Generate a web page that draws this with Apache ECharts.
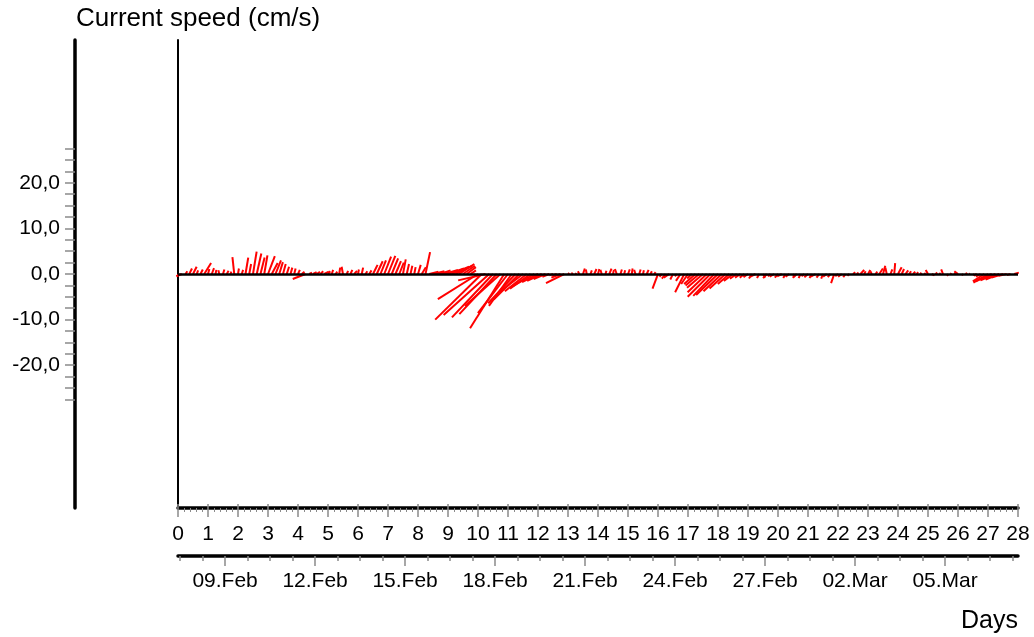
<!DOCTYPE html>
<html>
<head>
<meta charset="utf-8">
<script src="https://cdn.jsdelivr.net/npm/echarts@6/dist/echarts.min.js"></script>
<style>
  html, body { margin: 0; padding: 0; background: #fff; }
  #chart { width: 1034px; height: 637px; }
</style>
</head>
<body>
<div id="chart"></div>
<script>
// current vectors, one every 3 hours from day 0 (u = east, v = north, cm/s)
const stepHours = 3;
const eastSpeed = [
  0.3, -1.2, 0.4, 0.6, 0.8, 0.3, 0.5, 1.5,
  0.3, 0.5, 0.2, -0.2, 0.3, 0.4, 0.2, -0.4,
  0.2, 0.3, 0.6, 0.4, 0.8, 1.0, 0.9, 0.7,
  1.5, 1.3, 1.2, 0.8, 0.6, 0.5, 0.4, 0.3,
  0.4, 0.6, -2.8, 0.6, 0.8, 0.7, 0.6, 1.0,
  0.5, 0.3, 0.4, 0.2, -0.3, 0.3, 0.4, 0.6,
  0.2, 0.3, 0.4, 0.5, 1.0, 1.3, 1.2, 1.5,
  1.6, 1.4, 1.2, 1.0, 0.6, 0.5, 0.4, 0.3,
  0.6, 0.9, 1.0, 2.0, 2.5, 2.4, 2.2, 3.0,
  3.5, 3.8, 3.6, 3.3, 2.6, 2.0, 1.2, 0.5,
  -8.8, -10.2, -6.0, -10.0, -9.0, -8.2, -7.8, -7.5,
  -6.6, -5.0, -6.0, -5.6, -5.2, -4.8, -4.5, -4.6,
  -3.5, -3.2, -2.6, -1.5, -0.8, -1.0, -2.0, -4.0,
  0.3, 0.2, 0.2, -0.3, 0.4, -0.2, 0.3, 0.5,
  0.3, -0.3, 0.2, 0.5, 0.2, -0.4, 0.3, 0.2,
  0.4, 0.2, -0.3, 0.3, 0.2, 0.4, 0.3, 0.3,
  -1.2, -0.5, -0.8, -1.2, -0.6, -0.4, -1.0, -2.0,
  -1.5, -1.0, -2.5, -3.0, -3.5, -4.2, -5.0, -4.6,
  -4.8, -4.0, -3.5, -2.5, -2.0, -1.5, -1.2, -1.0,
  -1.0, -0.6, -1.2, -0.5, 0.5, -0.8, -0.6, -1.0,
  -0.7, -1.0, -0.5, -0.8, 0.4, -0.9, -0.4, -0.6,
  -0.8, -0.5, -1.0, -0.6, -0.4, -0.8, -0.6, -0.7,
  -0.6, -0.8, -0.5, -0.4, 0.5, 0.4, 0.8, 0.3,
  0.5, -0.3, 0.4, 0.8, 0.5, -0.3, 0.4, 0.2,
  0.8, 0.5, 0.6, 0.4, 0.5, 0.3, 0.2, 0.3,
  -0.5, 0.6, 0.4, 0.3, -0.4, 0.3, 0.2, 0.3,
  -0.8, 0.3, 0.4, 0.2, 0.5, -0.6, -1.0, -2.5,
  -3.2, -3.5, -3.3, -3.0, -2.5, -1.8, -0.8, 1.0
];
const northSpeed = [
  -0.4, -0.5, 0.6, 1.2, 1.6, 0.8, 1.0, 2.4,
  1.1, 1.3, 0.9, 0.8, 1.0, 0.7, 0.5, 3.7,
  1.2, 0.9, 3.6, 2.2, 4.9, 4.5, 3.6, 4.1,
  3.9, 2.4, 3.0, 2.6, 2.2, 1.6, 1.4, 1.2,
  0.9, 0.5, -1.1, 0.3, 0.4, 0.5, 0.6, 0.5,
  0.6, 0.9, 0.5, 1.4, 1.6, 0.7, 0.9, 0.7,
  1.0, 1.4, 0.6, 0.8, 2.0, 2.8, 3.0, 3.8,
  4.0, 3.4, 2.8, 2.5, 3.2, 2.2, 1.8, 1.5,
  2.0, 1.5, 4.8, 0.5, 0.6, 0.4, 0.8, 0.9,
  1.2, 1.6, 1.8, 2.2, 1.8, 1.5, 0.8, -0.5,
  -5.5, -10.0, -1.4, -9.0, -9.5, -8.8, -7.0, -11.9,
  -8.6, -7.0, -6.4, -5.6, -4.0, -3.8, -3.2, -2.6,
  -1.8, -1.5, -1.1, -0.6, -0.3, -0.3, -0.8, -2.0,
  0.2, 0.3, 0.2, 0.6, 1.2, 1.0, 0.8, 1.1,
  1.1, 0.9, 0.7, 1.2, 0.9, 1.1, 1.0, 0.8,
  1.0, 1.2, 0.9, 1.0, 0.8, 0.9, 0.6, 0.4,
  -3.2, -0.6, -1.0, -0.8, -1.2, -0.5, -1.5, -4.0,
  -2.2, -1.0, -2.2, -2.5, -3.0, -4.0, -5.0, -4.8,
  -4.6, -3.8, -3.2, -2.2, -1.5, -1.0, -0.8, -0.8,
  -0.7, -1.0, -0.6, -0.9, -0.8, -0.9, -0.5, -0.6,
  -0.8, -0.5, -0.9, -0.6, -0.7, -0.8, -0.9, -0.5,
  -0.7, -0.9, -0.6, -0.8, -1.0, -0.6, -0.7, -2.0,
  -0.5, -0.6, -0.7, -0.4, 0.4, 0.3, 0.9, 0.6,
  0.9, 0.6, 0.5, 1.2, 1.8, 1.4, 1.0, 2.4,
  1.5, 1.1, 0.8, 0.6, 0.5, 0.4, 0.3, 0.2,
  0.9, -0.3, 0.3, 0.2, 1.0, -0.4, 0.2, 0.3,
  0.6, -0.3, 0.2, 0.1, -0.4, -0.3, -0.6, -1.6,
  -1.9, -1.6, -1.4, -1.2, -0.8, -0.4, -0.2, 0.3
];

// axis ticks and labels
const speedLabels = [-20, -10, 0, 10, 20];
const speedTicks = [-27.5, -25, -22.5, -20, -17.5, -15, -12.5, -10, -7.5, -5, -2.5, 0,
  2.5, 5, 7.5, 10, 12.5, 15, 17.5, 20, 22.5, 25, 27.5];
const dateLabels = ['09.Feb', '12.Feb', '15.Feb', '18.Feb', '21.Feb', '24.Feb', '27.Feb', '02.Mar', '05.Mar'];
const firstDateDay = 1.57;   // position of 09.Feb on the day axis
const dateMinorStep = 0.75;  // 18 h

const dateMajor = dateLabels.map((d, i) => firstDateDay + 3 * i);
const dateMinor = [];
for (let d = firstDateDay - 2 * dateMinorStep; d <= 28; d += dateMinorStep) dateMinor.push(+d.toFixed(3));

const sticks = eastSpeed.map((u, i) => [i * stepHours / 24, u, northSpeed[i]]);

const FONT = 'Liberation Sans, Arial, sans-serif';
const chart = echarts.init(document.getElementById('chart'));

const yRange = 51.3;
const gray = '#8a8a8a';

chart.setOption({
  animation: false,
  backgroundColor: '#fff',
  grid: { left: 178, right: 16, top: 40, bottom: 129, containLabel: false },
  graphic: [
    { type: 'text', left: 76, top: 6, style: { text: 'Current speed (cm/s)', font: '26px ' + FONT, fill: '#000' } },
    { type: 'text', right: 16, top: 609, style: { text: 'Days', font: '25px ' + FONT, fill: '#000' } }
  ],
  xAxis: [
    {
      type: 'value', min: 0, max: 28, interval: 1, position: 'bottom',
      axisLine: { onZero: false, lineStyle: { color: '#000', width: 3.5 } },
      axisTick: { length: 9, lineStyle: { color: gray, width: 1.5 } },
      minorTick: { show: true, splitNumber: 5, length: 4, lineStyle: { color: gray, width: 1 } },
      axisLabel: { fontSize: 21, fontFamily: FONT, color: '#000', margin: 16 },
      splitLine: { show: false }
    },
    {
      type: 'value', min: 0, max: 28, interval: 1, position: 'bottom',
      axisLine: { show: false, onZero: false },
      axisTick: { inside: true, length: 4, lineStyle: { color: gray, width: 1.5 } },
      axisLabel: { show: false },
      splitLine: { show: false }
    },
    {
      type: 'value', min: 0, max: 28, position: 'bottom', offset: 48,
      axisLine: { onZero: false, lineStyle: { color: '#000', width: 3.5 } },
      axisTick: { customValues: dateMinor, length: 5, lineStyle: { color: gray, width: 1.5 } },
      axisLabel: { show: false },
      splitLine: { show: false }
    },
    {
      type: 'value', min: 0, max: 28, position: 'bottom', offset: 48,
      axisLine: { show: false, onZero: false },
      axisTick: { customValues: dateMajor, length: 10, lineStyle: { color: gray, width: 1.5 } },
      axisLabel: {
        customValues: dateMajor, fontSize: 21, fontFamily: FONT, color: '#000', margin: 15,
        formatter: v => dateLabels[Math.round((v - firstDateDay) / 3)]
      },
      splitLine: { show: false }
    }
  ],
  yAxis: [
    {
      type: 'value', min: -yRange, max: yRange, position: 'left', offset: 103,
      axisLine: { show: true, onZero: false, lineStyle: { color: '#000', width: 3.5 } },
      axisTick: { show: true, customValues: speedTicks, length: 10, lineStyle: { color: gray, width: 1.5 } },
      axisLabel: {
        customValues: speedLabels, fontSize: 21, fontFamily: FONT, color: '#000', margin: 15,
        formatter: v => v.toFixed(1).replace('.', ',')
      },
      splitLine: { show: false }
    },
    {
      type: 'value', min: -yRange, max: yRange, position: 'left', offset: 0,
      axisLine: { show: true, onZero: false, lineStyle: { color: '#000', width: 2 } },
      axisTick: { show: false },
      axisLabel: { show: false },
      splitLine: { show: false }
    }
  ],
  series: [
    {
      type: 'custom',
      xAxisIndex: 0,
      yAxisIndex: 0,
      encode: { x: 0, y: 2 },
      data: sticks,
      renderItem: (params, api) => {
        const t = api.value(0), u = api.value(1), v = api.value(2);
        const p0 = api.coord([t, 0]);
        const p1 = api.coord([t, v]);
        const pxPerUnit = api.size([0, 1])[1];
        return {
          type: 'line',
          shape: { x1: p0[0], y1: p0[1], x2: p0[0] + u * pxPerUnit, y2: p1[1] },
          style: { stroke: '#ff0000', lineWidth: 2 }
        };
      },
      markLine: {
        silent: true, symbol: 'none', z: 10,
        label: { show: false },
        lineStyle: { color: '#000', width: 2.5, type: 'solid' },
        data: [{ yAxis: 0 }]
      }
    }
  ]
});
</script>
</body>
</html>
